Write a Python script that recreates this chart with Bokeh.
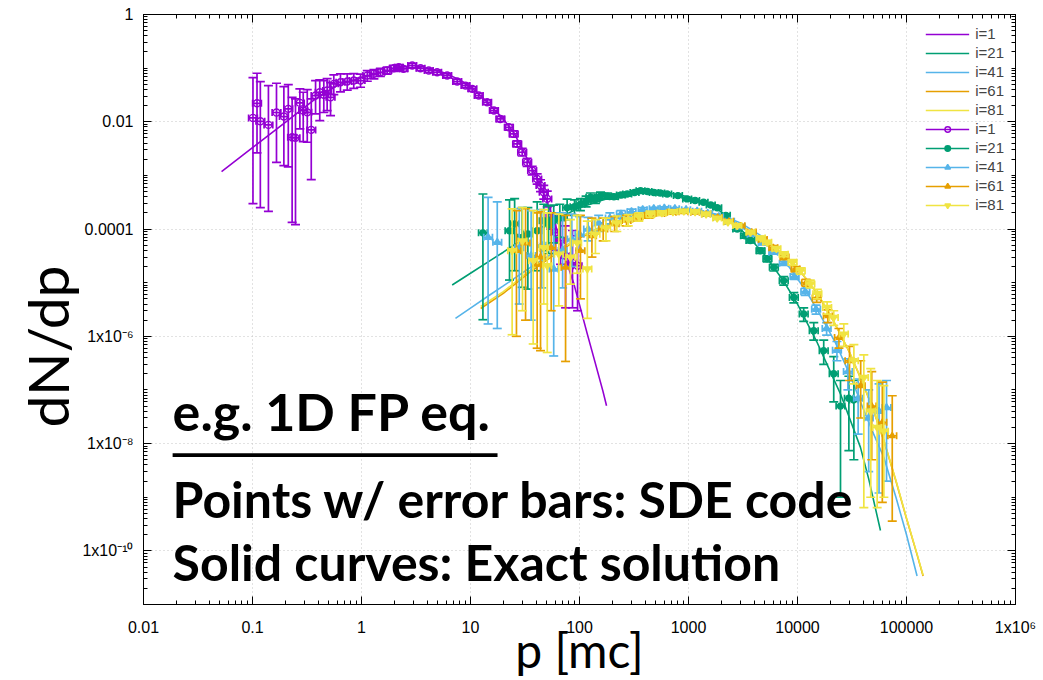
import json
import math

from bokeh.core.properties import value
from bokeh.embed import file_html
from bokeh.models import (BoxAnnotation, ColumnDataSource, CustomJSTickFormatter,
                          FixedTicker, Label, Legend, LegendItem, LogAxis, Title)
from bokeh.plotting import figure
from bokeh.resources import INLINE

# ---------------------------------------------------------------- data
# tick labels (gnuplot style)
x_tick_exp = [-2, -1, 0, 1, 2, 3, 4, 5, 6]
x_tick_labels = ["0.01", "0.1", "1", "10", "100", "1000", "10000", "100000", "1x10⁶"]
y_tick_exp = [-10, -8, -6, -4, -2, 0]
y_tick_labels = ["1x10⁻¹⁰", "1x10⁻⁸", "1x10⁻⁶", "0.0001", "0.01", "1"]

# SDE code, i=1
x1 = [0.101, 0.110, 0.118, 0.140, 0.166, 0.194, 0.213, 0.231, 0.248, 0.272,
      0.292, 0.318, 0.346, 0.379, 0.414, 0.451, 0.484, 0.520, 0.557, 0.641,
      0.740, 0.849, 0.980, 1.13, 1.30, 1.49, 1.72, 1.98, 2.20, 2.43,
      2.92, 3.48, 4.14, 4.94, 6.11, 7.55, 9.00, 10.4, 11.9, 14.2,
      16.4, 18.8, 22.5, 24.9, 26.8, 29.8, 33.1, 36.8, 40.9, 43.9,
      47.0, 50.6, 54.2, 60.3, 67.0, 74.5, 86.3, 96.0]
y1 = [0.0118, 0.0221, 0.0102, 0.00875, 0.0149, 0.0125, 0.0174, 0.00514, 0.00501, 0.0225,
      0.0162, 0.0150, 0.00706, 0.0308, 0.0355, 0.0318, 0.0382, 0.0286, 0.0509, 0.0546,
      0.0562, 0.0587, 0.0587, 0.0728, 0.0783, 0.0839, 0.0902, 0.0995, 0.104, 0.097,
      0.112, 0.0995, 0.0902, 0.0839, 0.0728, 0.0562, 0.0473, 0.0411, 0.0308, 0.0231,
      0.0162, 0.0113, 0.00789, 0.00594, 0.00387, 0.0027, 0.00175, 0.00123, 0.00086, 0.000645,
      0.000484, 0.000365, 0.000165, 8.6e-5, 6.1e-5, 3.19e-5, 2.36e-5, 2.07e-5]
lo1 = [2.98e-4, 0.00263, 2.5e-4, 2.14e-4, 0.00175, 0.00152, 0.00144, 1.33e-4, 1.21e-4, 0.00738,
       0.00427, 0.00415, 8.35e-4, 0.0140, 0.0105, 0.0149, 0.0162, 0.0130, 0.032, 0.036,
       0.039, 0.042, 0.044, 0.057, 0.063, 0.070, 0.077, 0.087, 0.092, 0.087,
       0.101, 0.090, 0.082, 0.076, 0.066, 0.051, 0.043, 0.037, 0.028, 0.021,
       0.0146, 0.0101, 0.0070, 0.0052, 0.0034, 0.0023, 0.00148, 0.00102, 6.9e-4, 5.0e-4,
       3.6e-4, 2.6e-4, 1.0e-4, 4.0e-5, 2.2e-5, 3.4e-6, 3.4e-6, 3.0e-6]
hi1 = [0.0668, 0.0803, 0.0562, 0.0473, 0.0523, 0.0454, 0.0494, 0.0286, 0.0267, 0.0411,
       0.0355, 0.0399, 0.0267, 0.0587, 0.0605, 0.0587, 0.064, 0.0539, 0.075, 0.078,
       0.078, 0.079, 0.077, 0.090, 0.094, 0.099, 0.104, 0.113, 0.116, 0.108,
       0.123, 0.109, 0.099, 0.092, 0.080, 0.062, 0.052, 0.045, 0.034, 0.0255,
       0.018, 0.0126, 0.0089, 0.0068, 0.0044, 0.0032, 0.00207, 0.00148, 0.00107, 8.3e-4,
       6.5e-4, 5.1e-4, 2.7e-4, 1.85e-4, 1.7e-4, 1.15e-4, 9.4e-5, 7.5e-5]

# SDE code, i=21
x21 = [13.0, 22.8, 25.4, 29.8, 33.6, 40.9, 47.0, 52.0, 58.0, 66.0,
       77.0, 90.0, 102, 115, 126, 140, 156, 180, 207, 240,
       274, 320, 363, 420, 481, 550, 637, 800, 972, 1150,
       1374, 1600, 1833, 2200, 2800, 3300, 3700, 4580, 5300, 6070,
       7480, 9250, 11400, 14100, 17400, 21500, 24800, 29600, 32900]
y21 = [8.5e-5, 9.3e-5, 1.25e-4, 7.0e-5, 8.1e-5, 9.3e-5, 1.43e-4, 1.2e-4, 1.43e-4, 1.6e-4,
       2.5e-4, 2.6e-4, 2.9e-4, 3.3e-4, 3.9e-4, 3.6e-4, 4.2e-4, 4.1e-4, 4.0e-4, 4.3e-4,
       4.5e-4, 4.8e-4, 5.2e-4, 5.0e-4, 4.8e-4, 4.7e-4, 4.5e-4, 4.2e-4, 3.65e-4, 3.4e-4,
       3.15e-4, 2.8e-4, 2.5e-4, 1.8e-4, 1.0e-4, 7.5e-5, 6.1e-5, 3.95e-5, 2.8e-5, 1.93e-5,
       1.09e-5, 5.3e-6, 2.6e-6, 1.27e-6, 5.4e-7, 2.0e-7, 5.0e-8, 7.0e-8, 6.5e-8]
lo21 = [2.04e-6, 1.12e-5, 1.67e-5, 8.2e-6, 7.6e-6, 1.67e-5, 3.95e-5, 3.5e-5, 5.5e-5, 7.0e-5,
        1.5e-4, 1.8e-4, 2.2e-4, 2.6e-4, 3.2e-4, 3.0e-4, 3.6e-4, 3.6e-4, 3.6e-4, 3.9e-4,
        4.1e-4, 4.45e-4, 4.85e-4, 4.7e-4, 4.5e-4, 4.4e-4, 4.25e-4, 3.97e-4, 3.45e-4, 3.2e-4,
        2.97e-4, 2.63e-4, 2.35e-4, 1.68e-4, 9.2e-5, 6.8e-5, 5.5e-5, 3.5e-5, 2.45e-5, 1.65e-5,
        9.0e-6, 4.2e-6, 1.9e-6, 8.5e-7, 3.0e-7, 6.0e-8, 1.0e-9, 7.4e-9, 5.0e-9]
hi21 = [4.5e-4, 3.5e-4, 3.7e-4, 2.5e-4, 2.5e-4, 3.2e-4, 2.9e-4, 2.7e-4, 2.8e-4, 2.9e-4,
        3.6e-4, 3.5e-4, 3.7e-4, 4.1e-4, 4.7e-4, 4.3e-4, 4.9e-4, 4.7e-4, 4.45e-4, 4.7e-4,
        4.9e-4, 5.2e-4, 5.6e-4, 5.3e-4, 5.1e-4, 5.0e-4, 4.75e-4, 4.43e-4, 3.85e-4, 3.6e-4,
        3.33e-4, 2.97e-4, 2.65e-4, 1.92e-4, 1.08e-4, 8.2e-5, 6.7e-5, 4.4e-5, 3.15e-5, 2.2e-5,
        1.3e-5, 6.5e-6, 3.4e-6, 1.8e-6, 8.5e-7, 4.2e-7, 1.5e-7, 1.8e-7, 1.5e-7]

# SDE code, i=41
x41 = [14.5, 17.6, 28.0, 36.0, 45.0, 58.0, 70.0, 85.0, 100, 120,
       150, 190, 240, 300, 380, 480, 600, 750, 950, 1200,
       1500, 1900, 2400, 3000, 3800, 4800, 6000, 7500, 9400, 11800,
       14800, 18500, 23000, 29000, 36000, 45000, 56000, 65600]
y41 = [7.0e-5, 5.65e-5, 4.5e-5, 3.2e-5, 5.0e-5, 1.8e-5, 4.0e-5, 6.5e-5, 8.0e-5, 1.0e-4,
       1.3e-4, 1.6e-4, 1.9e-4, 2.1e-4, 2.3e-4, 2.4e-4, 2.45e-4, 2.4e-4, 2.3e-4, 2.15e-4,
       1.95e-4, 1.7e-4, 1.4e-4, 1.1e-4, 8.0e-5, 5.5e-5, 3.7e-5, 2.3e-5, 1.3e-5, 6.8e-6,
       3.2e-6, 1.4e-6, 5.5e-7, 2.2e-7, 7.0e-8, 3.0e-8, 4.0e-8, 4.7e-8]
lo41 = [1.7e-6, 1.4e-6, 4.0e-6, 2.0e-6, 8.0e-6, 4.3e-7, 8.0e-6, 2.0e-5, 4.0e-5, 6.0e-5,
        9.0e-5, 1.25e-4, 1.6e-4, 1.85e-4, 2.1e-4, 2.25e-4, 2.32e-4, 2.28e-4, 2.2e-4, 2.05e-4,
        1.86e-4, 1.62e-4, 1.33e-4, 1.04e-4, 7.5e-5, 5.1e-5, 3.4e-5, 2.1e-5, 1.15e-5, 5.8e-6,
        2.6e-6, 1.05e-6, 3.5e-7, 1.0e-7, 1.5e-8, 3.0e-9, 1.2e-9, 2.0e-9]
hi41 = [3.9e-4, 3.2e-4, 2.4e-4, 2.2e-4, 2.3e-4, 2.0e-4, 2.0e-4, 1.9e-4, 1.7e-4, 1.65e-4,
        1.8e-4, 2.0e-4, 2.2e-4, 2.35e-4, 2.5e-4, 2.55e-4, 2.58e-4, 2.52e-4, 2.4e-4, 2.25e-4,
        2.04e-4, 1.78e-4, 1.47e-4, 1.16e-4, 8.5e-5, 5.9e-5, 4.0e-5, 2.5e-5, 1.45e-5, 7.8e-6,
        3.8e-6, 1.8e-6, 8.0e-7, 3.8e-7, 1.6e-7, 1.0e-7, 1.3e-7, 1.5e-7]

# SDE code, i=61
x61 = [26.4, 32.0, 40.9, 43.9, 55.0, 74.5, 102, 130, 165, 210,
       270, 340, 430, 550, 700, 900, 1150, 1450, 1850, 2350,
       3000, 3800, 4800, 6000, 7600, 9600, 12000, 15000, 19000, 24000,
       30000, 38000, 48000, 60000, 74000]
y61 = [3.95e-5, 5.5e-5, 2.2e-5, 3.0e-5, 4.5e-5, 1.93e-5, 3.95e-5, 7.5e-5, 1.0e-4, 1.25e-4,
       1.45e-4, 1.65e-4, 1.8e-4, 1.95e-4, 2.05e-4, 2.1e-4, 2.05e-4, 1.9e-4, 1.65e-4, 1.4e-4,
       1.15e-4, 8.8e-5, 6.4e-5, 4.5e-5, 3.0e-5, 1.8e-5, 1.0e-5, 5.2e-6, 2.4e-6, 9.5e-7,
       3.5e-7, 1.2e-7, 5.0e-8, 2.5e-8, 1.4e-8]
lo61 = [1.0e-6, 2.0e-6, 6.0e-7, 5.4e-7, 3.0e-6, 3.4e-7, 5.0e-6, 3.0e-5, 6.0e-5, 9.0e-5,
        1.15e-4, 1.4e-4, 1.6e-4, 1.8e-4, 1.93e-4, 2.0e-4, 1.95e-4, 1.8e-4, 1.56e-4, 1.32e-4,
        1.08e-4, 8.2e-5, 5.9e-5, 4.1e-5, 2.7e-5, 1.6e-5, 8.6e-6, 4.3e-6, 1.8e-6, 6.0e-7,
        1.5e-7, 3.0e-8, 5.0e-9, 8.0e-10, 3.6e-10]
hi61 = [2.2e-4, 2.4e-4, 2.0e-4, 2.1e-4, 2.0e-4, 1.8e-4, 1.8e-4, 1.6e-4, 1.6e-4, 1.7e-4,
        1.8e-4, 1.9e-4, 2.0e-4, 2.1e-4, 2.17e-4, 2.2e-4, 2.15e-4, 2.0e-4, 1.74e-4, 1.48e-4,
        1.22e-4, 9.4e-5, 6.9e-5, 4.9e-5, 3.3e-5, 2.0e-5, 1.15e-5, 6.2e-6, 3.1e-6, 1.4e-6,
        6.5e-7, 3.5e-7, 2.2e-7, 1.4e-7, 7.8e-8]

# SDE code, i=81
x81 = [24.1, 30.0, 37.6, 47.0, 50.6, 64.6, 82.6, 95.0, 118, 140,
       175, 220, 280, 350, 448, 570, 720, 906, 1150, 1450,
       1833, 2300, 2800, 3700, 4600, 5270, 6400, 7480, 9000, 10700,
       13100, 15200, 18700, 21500, 26600, 32900, 40600, 47000, 53800, 62000]
y81 = [3.95e-5, 6.0e-5, 2.57e-5, 4.5e-5, 2.07e-5, 3.4e-5, 2.97e-5, 5.5e-5, 1.8e-5, 8.0e-5,
       1.05e-4, 1.3e-4, 1.5e-4, 1.7e-4, 1.9e-4, 2.0e-4, 2.1e-4, 2.15e-4, 2.1e-4, 1.9e-4,
       1.6e-4, 1.35e-4, 1.16e-4, 8.7e-5, 6.8e-5, 5.65e-5, 4.3e-5, 3.4e-5, 2.4e-5, 1.67e-5,
       9.5e-6, 6.2e-6, 3.46e-6, 2.25e-6, 1.1e-6, 3.5e-7, 1.7e-7, 4.0e-8, 2.0e-8, 1.7e-8]
lo81 = [1.07e-6, 3.0e-6, 7.2e-7, 4.0e-6, 5.0e-7, 3.7e-6, 9.4e-6, 1.5e-5, 2.16e-6, 3.5e-5,
        6.0e-5, 9.0e-5, 1.15e-4, 1.4e-4, 1.65e-4, 1.82e-4, 1.97e-4, 2.03e-4, 1.99e-4, 1.8e-4,
        1.51e-4, 1.27e-4, 1.09e-4, 8.1e-5, 6.3e-5, 5.2e-5, 3.9e-5, 3.05e-5, 2.12e-5, 1.45e-5,
        8.0e-6, 5.0e-6, 2.6e-6, 1.6e-6, 6.5e-7, 1.3e-7, 6.4e-10, 1.0e-9, 6.4e-10, 1.0e-9]
hi81 = [2.37e-4, 2.5e-4, 2.2e-4, 2.3e-4, 2.0e-4, 1.9e-4, 1.5e-4, 1.8e-4, 1.4e-4, 1.5e-4,
        1.6e-4, 1.75e-4, 1.85e-4, 2.0e-4, 2.15e-4, 2.18e-4, 2.23e-4, 2.27e-4, 2.21e-4, 2.0e-4,
        1.69e-4, 1.43e-4, 1.23e-4, 9.3e-5, 7.3e-5, 6.1e-5, 4.7e-5, 3.75e-5, 2.7e-5, 1.9e-5,
        1.12e-5, 7.5e-6, 4.4e-6, 3.0e-6, 1.7e-6, 7.0e-7, 4.5e-7, 2.5e-7, 1.5e-7, 1.2e-7]

# exact solutions
xe1 = [0.052, 0.1, 0.2, 0.36, 0.6, 1.0, 1.5, 2.2, 3.0, 4.0, 5.0, 6.0, 8.0, 10, 13,
       16, 20, 25, 30, 40, 50, 60, 70, 82.6, 88.8, 100, 118, 140, 164, 177]
ye1 = [0.00118, 0.00329, 0.00975, 0.0249, 0.048, 0.066, 0.082, 0.097, 0.104, 0.098,
       0.089, 0.079, 0.060, 0.045, 0.028, 0.018, 0.0113, 0.0062, 0.0031, 9.5e-4,
       3.4e-4, 1.2e-4, 4.5e-5, 1.47e-5, 9.5e-6, 3.9e-6, 1.1e-6, 3.1e-7, 9.5e-8, 5.07e-8]

xe21 = [6.79, 10, 15, 20, 28.8, 40, 60, 100, 150, 200, 300, 400, 550, 700, 1000,
        1500, 2000, 3000, 4000, 5000, 7500, 10000, 15000, 20000, 24800, 30000,
        37800, 45000, 57700]
ye21 = [9.06e-6, 1.5e-5, 2.55e-5, 3.7e-5, 6.1e-5, 9.5e-5, 1.5e-4, 2.5e-4, 3.3e-4,
        3.9e-4, 4.5e-4, 4.75e-4, 4.8e-4, 4.6e-4, 4.0e-4, 2.9e-4, 2.1e-4, 1.0e-4,
        5.5e-5, 3.3e-5, 1.05e-5, 4.0e-6, 8.0e-7, 2.2e-7, 8.4e-8, 3.0e-8, 8.5e-9,
        2.2e-9, 2.4e-10]

xe41 = [7.28, 10, 15, 20, 35.5, 60, 100, 150, 250, 400, 600, 900, 1300, 2000, 3000,
        4500, 6500, 9000, 12000, 16000, 22000, 30000, 40000, 50000, 62000, 80000,
        100000, 125000]
ye41 = [2.16e-6, 3.35e-6, 5.9e-6, 8.7e-6, 1.93e-5, 3.8e-5, 7.0e-5, 1.05e-4, 1.55e-4,
        1.95e-4, 2.2e-4, 2.3e-4, 2.2e-4, 1.8e-4, 1.3e-4, 7.8e-5, 4.0e-5, 1.6e-5,
        7.0e-6, 2.6e-6, 8.0e-7, 2.0e-7, 4.5e-8, 1.5e-8, 5.5e-9, 1.0e-9, 2.0e-10, 3.4e-11]

xe61 = [12.4, 20, 35.5, 60, 100, 200, 400, 700, 1000, 1500, 2000, 3000, 5000, 7500,
        10000, 15000, 20000, 30000, 40000, 50000, 62000, 80000, 100000, 125000, 142000]
ye61 = [3.3e-6, 6.3e-6, 1.6e-5, 3.4e-5, 6.8e-5, 1.28e-4, 1.78e-4, 2.08e-4, 2.12e-4,
        1.9e-4, 1.6e-4, 1.15e-4, 6.0e-5, 3.3e-5, 1.9e-5, 6.5e-6, 2.5e-6, 5.0e-7,
        1.3e-7, 4.0e-8, 1.13e-8, 2.0e-9, 4.0e-10, 8.5e-11, 3.4e-11]

xe81 = [12.4, 20, 35.5, 60, 100, 200, 400, 700, 1000, 1500, 2000, 3000, 5000, 7500,
        10000, 15000, 20000, 30000, 40000, 50000, 62000, 80000, 100000, 125000, 142000]
ye81 = [3.6e-6, 6.8e-6, 1.72e-5, 3.6e-5, 7.1e-5, 1.32e-4, 1.82e-4, 2.12e-4, 2.16e-4,
        1.93e-4, 1.62e-4, 1.17e-4, 6.1e-5, 3.35e-5, 1.92e-5, 6.6e-6, 2.55e-6, 5.1e-7,
        1.32e-7, 4.1e-8, 1.15e-8, 2.05e-9, 4.1e-10, 8.7e-11, 3.5e-11]

# half width of a momentum bin, as a factor in p
BIN_HALF = 10 ** 0.04

PURPLE, GREEN, BLUE, ORANGE, YELLOW = "#9400D3", "#009E73", "#56B4E9", "#E69F00", "#F0E442"

# ---------------------------------------------------------------- figure
p = figure(width=1043, height=680, x_axis_type="log", y_axis_type="log",
           x_range=(1e-2, 1e6), y_range=(1e-11, 1.0),
           output_backend="svg", toolbar_location=None,
           min_border_left=143, min_border_right=28,
           min_border_top=14, min_border_bottom=76)
p.outline_line_color = "black"
p.outline_line_width = 1


def tick_formatter(exps, labels):
    table = json.dumps({str(k): s for k, s in zip(exps, labels)})
    return CustomJSTickFormatter(code=(
        "const m = %s; const k = String(Math.round(Math.log10(tick)));"
        " return (k in m) ? m[k] : '';" % table))


x_major = [10.0 ** k for k in range(-2, 7)]
x_minor = [m * 10.0 ** k for k in range(-2, 6) for m in range(2, 10)]
y_major = [10.0 ** k for k in range(-10, 1, 2)]
y_minor = [m * 10.0 ** k for k in range(-11, 0) for m in range(1, 10)
           if not (m == 1 and k % 2 == 0)]

xa = p.below[0]
ya = p.left[0]
xa.ticker = FixedTicker(ticks=x_major, minor_ticks=x_minor)
ya.ticker = FixedTicker(ticks=y_major, minor_ticks=y_minor)
xa.formatter = tick_formatter(x_tick_exp, x_tick_labels)
ya.formatter = tick_formatter(y_tick_exp, y_tick_labels)

for ax in (xa, ya):
    ax.major_label_text_font = "Liberation Sans"
    ax.major_label_text_font_size = "16px"
    ax.major_label_text_color = "black"
xa.major_label_standoff = 14
ya.major_label_standoff = 10
xa.axis_label = "p [mc]"
xa.axis_label_text_font = "Lato"
xa.axis_label_text_font_style = "normal"
xa.axis_label_text_color = "black"
xa.axis_label_text_font_size = "48px"
xa.axis_label_standoff = -18

# y title as a left-side title, so it can sit a little below centre
p.add_layout(Title(text="dN/dp", align="left", offset=177, standoff=-2,
                   text_font="Lato", text_font_style="normal",
                   text_font_size="57px", text_color="black"), "left")

# mirrored tick marks on top and right
blank = CustomJSTickFormatter(code="return '';")
top = LogAxis(ticker=FixedTicker(ticks=x_major, minor_ticks=x_minor), formatter=blank,
              major_label_text_font_size="0px", major_label_standoff=0)
right = LogAxis(ticker=FixedTicker(ticks=y_major, minor_ticks=y_minor), formatter=blank,
                major_label_text_font_size="0px", major_label_standoff=0)
p.add_layout(top, "above")
p.add_layout(right, "right")

for ax in (xa, ya, top, right):
    ax.axis_line_color = "black"
    ax.major_tick_line_color = "black"
    ax.minor_tick_line_color = "black"
    ax.major_tick_in = 8
    ax.major_tick_out = 0
    ax.minor_tick_in = 4
    ax.minor_tick_out = 0

p.grid.grid_line_color = "#c4c4c4"
p.grid.grid_line_dash = "1 3"
p.grid.grid_line_width = 1

# ---------------------------------------------------------------- exact solutions
exact = []
for xs, ys, c in ((xe1, ye1, PURPLE), (xe21, ye21, GREEN), (xe41, ye41, BLUE),
                  (xe61, ye61, ORANGE), (xe81, ye81, YELLOW)):
    exact.append(p.line(xs, ys, line_color=c, line_width=1.6))


# ---------------------------------------------------------------- SDE points with error bars
def sde(xs, ys, lo, hi, color, marker, size, filled=True):
    src = ColumnDataSource(dict(
        x=xs, y=ys, lo=lo, hi=hi,
        xl=[v / BIN_HALF for v in xs], xr=[v * BIN_HALF for v in xs]))
    lw = 1.7
    p.segment("x", "lo", "x", "hi", source=src, line_color=color, line_width=lw)
    p.scatter("x", "lo", source=src, marker="dash", size=9, line_color=color, line_width=lw)
    p.scatter("x", "hi", source=src, marker="dash", size=9, line_color=color, line_width=lw)
    h = p.segment("xl", "y", "xr", "y", source=src, line_color=color, line_width=lw)
    p.scatter("xl", "y", source=src, marker="dash", angle=math.pi / 2, size=7,
              line_color=color, line_width=lw)
    p.scatter("xr", "y", source=src, marker="dash", angle=math.pi / 2, size=7,
              line_color=color, line_width=lw)
    m = p.scatter("x", "y", source=src, marker=marker, size=size, line_color=color,
                  line_width=1.4, fill_color=color if filled else None)
    return [h, m]


points = [
    sde(x1, y1, lo1, hi1, PURPLE, "circle", 7, filled=False),
    sde(x21, y21, lo21, hi21, GREEN, "circle", 6),
    sde(x41, y41, lo41, hi41, BLUE, "triangle", 7),
    sde(x61, y61, lo61, hi61, ORANGE, "triangle", 6),
    sde(x81, y81, lo81, hi81, YELLOW, "inverted_triangle", 7),
]

names = ["i=1", "i=21", "i=41", "i=61", "i=81"]
items = [LegendItem(label=value(n), renderers=[r]) for n, r in zip(names, exact)]
items += [LegendItem(label=value(n), renderers=rs) for n, rs in zip(names, points)]
legend = Legend(items=items, location="top_right",
                background_fill_alpha=0, border_line_alpha=0,
                label_text_font="Liberation Sans", label_text_font_size="15px",
                glyph_width=44, glyph_height=14, label_height=14,
                spacing=2, padding=4, margin=7, label_standoff=6)
p.add_layout(legend)

# ---------------------------------------------------------------- annotation text
txt = dict(text_font="Lato", text_font_style="bold", text_color="black",
           text_baseline="alphabetic")
p.add_layout(Label(x=0.0185, y=4.0e-8, text="e.g. 1D FP eq.", text_font_size="52px", **txt))
p.add_layout(BoxAnnotation(left=0.0185, right=17.7, bottom=5.6e-9, top=6.6e-9,
                           fill_color="black", fill_alpha=1.0, line_alpha=0))
p.add_layout(Label(x=0.0185, y=9.2e-10, text="Points w/ error bars: SDE code",
                   text_font_size="50px", **txt))
p.add_layout(Label(x=0.0185, y=6.2e-11, text="Solid curves: Exact solution",
                   text_font_size="50px", **txt))

open("out.html", "w").write(file_html(p, INLINE))
